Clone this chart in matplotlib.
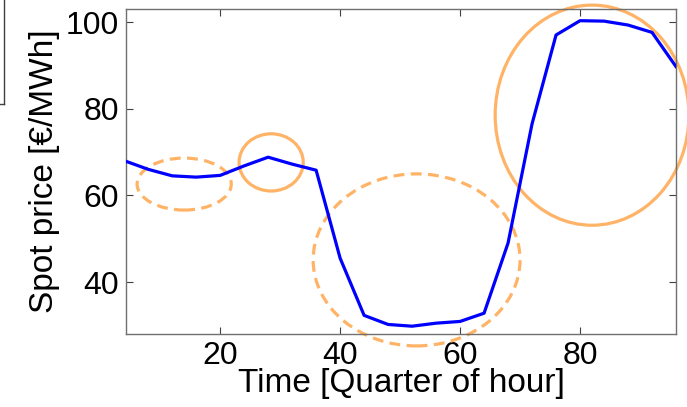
import matplotlib
matplotlib.use('Agg')
import matplotlib.pyplot as plt
from matplotlib.patches import Ellipse
from matplotlib.lines import Line2D

plt.rcParams['font.family'] = ['Liberation Sans', 'DejaVu Sans']

quarter = [4, 8, 12, 16, 20, 24, 28, 32, 36, 40, 44, 48,
           52, 56, 60, 64, 68, 72, 76, 80, 84, 88, 92, 96]
price = [68.0, 66.0, 64.5, 64.2, 64.6, 66.8, 68.8, 67.2, 65.8, 45.5, 32.3, 30.2,
         29.8, 30.5, 30.9, 32.8, 49.0, 76.5, 97.0, 100.3, 100.2, 99.3, 97.6, 89.7]

xticks = [20, 40, 60, 80]
yticks = [40, 60, 80, 100]

# highlighted regions: (x, y, width, height, dashed)
regions = [(14.0, 62.6, 15.7, 12.0, True),
           (28.5, 67.6, 10.7, 13.2, False),
           (52.75, 45.1, 34.5, 39.7, True),
           (82.0, 78.5, 32.3, 50.8, False)]


def main():
    fig = plt.figure(figsize=(6.87, 4.07), dpi=100)
    ax = fig.add_axes([126 / 687, 1 - 334 / 407, 550 / 687, 325 / 407])

    ax.plot(quarter, price, color='#0000FF', linewidth=2.3, zorder=3)

    for x, y, w, h, dashed in regions:
        ls = (0, (3.4, 2.0)) if dashed else '-'
        ax.add_patch(Ellipse((x, y), w, h, fill=False, edgecolor='#FFB366',
                             linewidth=2.3, linestyle=ls, clip_on=False, zorder=2))

    ax.set_xlim(4.3, 96)
    ax.set_ylim(28, 103)
    ax.set_xticks(xticks)
    ax.set_yticks(yticks)
    ax.tick_params(direction='in', length=5, width=0.8, color='#404040',
                   top=True, right=True, labelsize=23, pad=5)
    for s in ax.spines.values():
        s.set_color('#707070')
        s.set_linewidth(1.0)

    ax.set_xlabel('Time [Quarter of hour]', fontsize=24, labelpad=-2)
    ax.set_ylabel('Spot price [€/MWh]', fontsize=24, labelpad=4)

    # edge of a neighbouring box cut off at the top left
    yb = 1 - 104 / 407
    fig.add_artist(Line2D([4 / 687, 4 / 687], [1, yb], color='#404040', linewidth=1))
    fig.add_artist(Line2D([0, 4 / 687], [yb, yb], color='#404040', linewidth=1))

    fig.savefig('out.png', dpi=100)


if __name__ == '__main__':
    main()
